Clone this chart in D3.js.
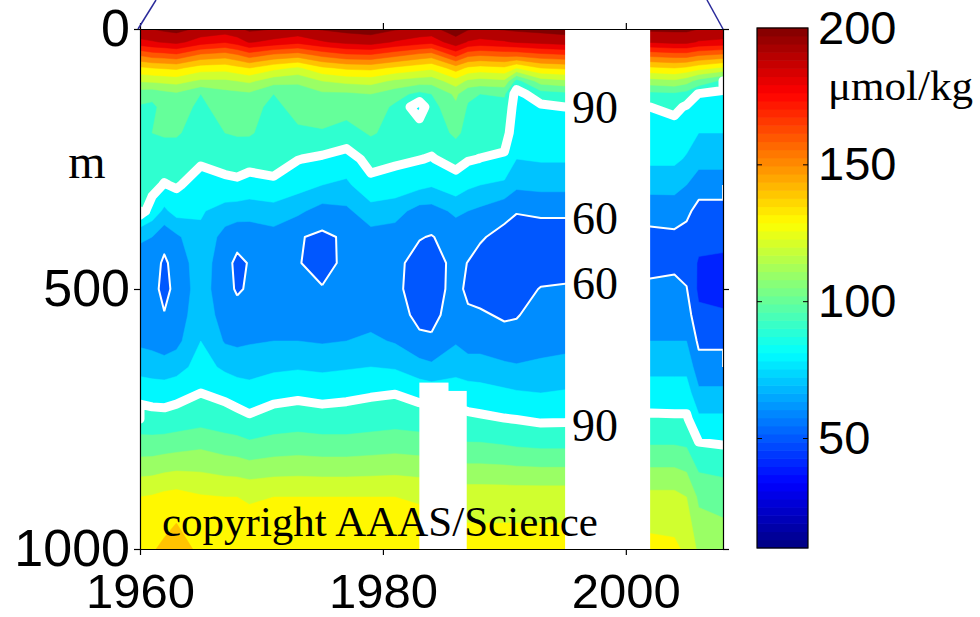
<!DOCTYPE html>
<html>
<head>
<meta charset="utf-8">
<script src="https://cdn.jsdelivr.net/npm/d3@7"></script>
<style>
body { margin: 0; background: #fff; }
</style>
</head>
<body>
<div id="chart"></div>
<script>
// sample years (columns) and depths in m (rows)
var years = [1960, 1961, 1962, 1963, 1965, 1967, 1968, 1969, 1971, 1973, 1975, 1977, 1979, 1981,
             1983, 1984, 1986, 1987, 1988, 1990, 1991, 1993, 1995, 2002, 2004, 2005, 2006, 2008];
var depths = [0, 25, 50, 75, 100, 125, 150, 200, 250, 300, 350, 400, 450, 500, 550, 600, 650, 700, 750, 800, 900, 1000];

// oxygen, umol/kg : one profile per year, top to bottom
var oxygen = [
  [199, 187, 161, 138, 121, 104, 99, 99, 97, 95, 93.5, 72, 64, 63, 64, 68, 76, 87, 94, 104, 130, 136],      // 1960
  [200, 189, 165, 140, 122, 103, 98, 100, 96, 93, 86, 70, 64, 63.5, 64, 67, 75, 86, 93.5, 104, 131, 139],   // 1961
  [202, 191, 166, 141, 123, 106, 103, 101, 95, 89.5, 78, 63, 58.5, 57, 60.5, 65, 74, 86, 93, 105, 133, 142],// 1962
  [203, 193, 168, 142, 124, 108, 104, 101, 95, 91, 84, 68, 63.5, 63, 64, 67, 76, 87, 94, 106, 134, 146],    // 1963
  [198, 185, 158, 135, 118, 100, 98, 96, 91.5, 86, 81, 78, 76, 75, 77, 80, 84, 90, 96, 108, 131, 137],      // 1965
  [196, 181, 155, 134, 118, 106, 104, 100, 93, 88, 76, 66, 63, 63, 65, 69, 78, 88, 94, 105, 130, 136],      // 1967
  [198, 185, 159, 137, 120, 107, 105, 101, 93.5, 88.5, 75, 63, 58, 59, 63, 68, 76, 86, 93, 104, 130, 136],  // 1968
  [202, 191, 165, 140, 122, 108, 104, 101, 93, 87, 74, 64, 60.5, 61, 64, 69, 76, 84, 91.5, 102, 129, 136],  // 1969
  [200, 187, 158, 133, 114, 100, 97, 96, 94, 88, 76, 66, 62, 62, 65, 70, 78, 87, 94, 104, 130, 136],        // 1971
  [198, 183, 155, 128, 112, 104, 104, 98, 90.3, 84, 72, 60.8, 60.5, 62, 65, 70, 79, 88, 95, 105, 130, 136], // 1973
  [201, 189, 163, 138, 120, 108, 105, 99, 88.5, 80, 66, 58, 57, 60.5, 64, 69, 78, 87, 94, 104, 130, 136],   // 1975
  [203, 193, 168, 142, 123, 108, 104, 96, 86, 78, 68, 61.5, 62, 63, 65, 70, 79, 88, 94, 104, 130, 136],     // 1977
  [204, 195, 169, 143, 124, 110, 106, 101, 93, 87.5, 76, 66, 63, 63, 66, 72, 80, 89, 95, 105, 130, 136],    // 1979
  [201, 189, 163, 138, 118, 104, 98, 97, 91.5, 86, 74, 65, 62, 62, 64, 69, 79, 89.7, 96, 106, 130, 136],    // 1981
  [198, 185, 157, 134, 115, 97, 85, 96, 90.3, 83, 66, 60.5, 57, 56, 57.5, 62, 74, 87, 95, 105, 129, 136],   // 1983
  [198, 183, 155, 132, 114, 100, 96, 94, 89.5, 81, 66, 59.5, 57, 56, 57, 61.5, 72, 86, 94, 104, 128, 135],  // 1984
  [204, 197, 173, 145, 126, 112, 108, 102, 93, 86, 72, 64, 62, 63, 65, 69, 76, 86, 93, 102, 127, 135],      // 1986
  [201, 189, 163, 138, 118, 102, 99, 97, 90.8, 82, 70, 63, 59.8, 58, 61.5, 66, 74, 85, 92, 101, 126, 134],  // 1987
  [199, 187, 161, 136, 116, 100, 97, 95, 89.8, 80, 68, 61, 57, 57, 61, 66, 74, 84, 91.5, 101, 126, 134],    // 1988
  [201, 189, 163, 138, 118, 101, 97, 94, 88.5, 78, 63, 57, 55, 56, 59, 63, 72, 82, 90.3, 100, 126, 134],    // 1990
  [202, 191, 163, 130, 96, 87, 86, 84, 80, 72, 60.5, 56, 55, 56, 59.5, 63, 71, 81, 89.8, 99, 126, 134],     // 1991
  [203, 193, 167, 140, 115, 95, 88.5, 85, 81, 73, 61.5, 56, 55, 60.5, 63, 66, 72, 80, 88.5, 98, 126, 134],  // 1993
  [204, 195, 169, 142, 118, 97, 90, 85, 81, 73, 61.5, 56, 56, 61, 64, 67, 73, 81, 88.8, 98, 126, 134],      // 1995
  [202, 191, 163, 138, 116, 97, 90, 86, 82, 74, 63, 58, 57, 62, 66, 70, 77, 85, 91.5, 100, 123, 133],       // 2002
  [202, 193, 165, 140, 118, 98, 92, 86, 82, 74, 63.5, 58.5, 58, 62.5, 66, 70, 77, 85, 91.3, 100, 123, 132], // 2004
  [202, 193, 165, 138, 114, 96, 89, 84, 79, 70, 62, 57, 56, 60.5, 65, 70, 77, 85, 91.3, 99, 120, 128],      // 2005
  [200, 189, 161, 134, 106, 89.5, 86, 80, 74, 64, 57, 53, 49, 48, 52, 58, 64, 72, 82, 91, 108, 118],        // 2006
  [200, 187, 158, 128, 98, 87, 85, 80, 74, 64, 57, 53, 48, 47, 51, 58, 64, 72, 82, 90, 106, 116]            // 2008
];

// filled levels, labelled white lines, gaps with no data
var fillLevels = d3.range(10, 201, 10);
var thickLevel = 90, thinLevel = 60;
var labelValues = [90, 60, 60, 90];
var labelDepths = [150, 364, 488, 762];
var gapFrom = [1995, 1983, 1985.2];
var gapTo = [2002, 1985.4, 1986.9];
var gapTop = [0, 680, 696];
var xTicks = [1960, 1980, 2000];
var yTicks = [0, 500, 1000];
var cTicks = [50, 100, 150, 200];

var sans = "'Liberation Sans', Arial, Helvetica, sans-serif";
var serif = "'Liberation Serif', 'Times New Roman', Times, serif";

var width = 980, height = 617;

var x = d3.scaleLinear().domain([1960, 2008]).range([140, 723]);
var y = d3.scaleLinear().domain([0, 1000]).range([29, 549]);
var cy = d3.scaleLinear().domain([10, 200]).range([548, 28]);

// matlab jet colormap
var jetStops = [0, 0.125, 0.375, 0.625, 0.875, 1];
var jet = d3.scaleLinear()
    .domain(jetStops.map(function(t){ return 10 + t * 190; }))
    .range(["#000080", "#0000ff", "#00ffff", "#ffff00", "#ff0000", "#800000"])
    .clamp(true);

var svg = d3.select("#chart")
    .append("svg")
    .attr("width", width)
    .attr("height", height)
    .style("background", "#fff");

svg.append("defs").append("clipPath").attr("id", "plotClip")
    .append("rect")
    .attr("x", x(1960)).attr("y", y(0))
    .attr("width", x(2008) - x(1960)).attr("height", y(1000) - y(0));

// grid for d3.contours, columns = years, rows = depths
var nx = years.length, ny = depths.length;
var grid = new Array(nx * ny);
for (var i = 0; i < nx; i++) {
  for (var j = 0; j < ny; j++) {
    grid[j * nx + i] = oxygen[i][j];
  }
}

// contour coords are cell based, map them back to year / depth
var colIdx = d3.scaleLinear().domain(d3.range(nx)).range(years).clamp(true);
var rowIdx = d3.scaleLinear().domain(d3.range(ny)).range(depths).clamp(true);
function px(c){ return x(colIdx(c - 0.5)); }
function py(r){ return y(rowIdx(r - 0.5)); }

var proj = d3.geoTransform({
  point: function(a, b){ this.stream.point(px(a), py(b)); }
});
var path = d3.geoPath(proj);

var contours = d3.contours().size([nx, ny]);
var bands = contours.thresholds(fillLevels)(grid);

var plot = svg.append("g").attr("clip-path", "url(#plotClip)");

plot.selectAll("path.band")
    .data(bands)
    .enter()
    .append("path")
    .attr("class", "band")
    .attr("d", path)
    .attr("fill", function(d){ return jet(d.value); })
    .attr("stroke", function(d){ return jet(d.value); })
    .attr("stroke-width", 0.5);

// contour lines without the parts lying on the grid border
function contourRuns(level) {
  var c = contours.contour(grid, level);
  var runs = [];
  function onEdge(p){ return p[0] <= 0 || p[0] >= nx || p[1] <= 0 || p[1] >= ny; }
  c.coordinates.forEach(function(poly){
    poly.forEach(function(ring){
      var run = [];
      for (var k = 0; k < ring.length - 1; k++) {
        var a = ring[k], b = ring[k + 1];
        if (onEdge(a) && onEdge(b)) {
          if (run.length > 1) runs.push(run);
          run = [];
        } else {
          if (!run.length) run.push(a);
          run.push(b);
        }
      }
      if (run.length > 1) runs.push(run);
    });
  });
  return runs;
}

var line = d3.line()
    .x(function(p){ return px(p[0]); })
    .y(function(p){ return py(p[1]); });

plot.selectAll("path.thin")
    .data(contourRuns(thinLevel))
    .enter()
    .append("path")
    .attr("class", "thin")
    .attr("d", line)
    .attr("fill", "none")
    .attr("stroke", "#fff")
    .attr("stroke-width", 2)
    .attr("stroke-linejoin", "round");

plot.selectAll("path.thick")
    .data(contourRuns(thickLevel))
    .enter()
    .append("path")
    .attr("class", "thick")
    .attr("d", line)
    .attr("fill", "none")
    .attr("stroke", "#fff")
    .attr("stroke-width", 9)
    .attr("stroke-linejoin", "round")
    .attr("stroke-linecap", "round");

// no data
plot.selectAll("rect.gap")
    .data(gapFrom)
    .enter()
    .append("rect")
    .attr("class", "gap")
    .attr("x", function(d){ return x(d); })
    .attr("y", function(d, i){ return y(gapTop[i]); })
    .attr("width", function(d, i){ return x(gapTo[i]) - x(d); })
    .attr("height", function(d, i){ return y(1000) - y(gapTop[i]); })
    .attr("fill", "#fff");

svg.selectAll("text.clabel")
    .data(labelValues)
    .enter()
    .append("text")
    .attr("class", "clabel")
    .attr("x", x(1995) + 7)
    .attr("y", function(d, i){ return y(labelDepths[i]); })
    .attr("dy", "0.35em")
    .style("font-family", serif)
    .style("font-size", "46px")
    .text(function(d){ return d; });

svg.append("text")
    .attr("x", 162)
    .attr("y", 536)
    .style("font-family", serif)
    .style("font-size", "43px")
    .text("copyright AAAS/Science");

// axes
var xAxis = svg.append("g")
    .attr("transform", "translate(0," + y(1000) + ")")
    .call(d3.axisBottom(x).tickValues(xTicks).tickFormat(d3.format("d")).tickSize(6).tickSizeOuter(0).tickPadding(18));
var yAxis = svg.append("g")
    .attr("transform", "translate(" + x(1960) + ",0)")
    .call(d3.axisLeft(y).tickValues(yTicks).tickFormat(d3.format("d")).tickSize(6).tickSizeOuter(0).tickPadding(4));
svg.append("g")
    .attr("transform", "translate(0," + y(0) + ")")
    .call(d3.axisTop(x).tickValues(xTicks).tickFormat("").tickSize(6).tickSizeOuter(0));
svg.append("g")
    .attr("transform", "translate(" + x(2008) + ",0)")
    .call(d3.axisRight(y).tickValues(yTicks).tickFormat("").tickSize(6).tickSizeOuter(0));

svg.selectAll(".domain").attr("stroke", "#000").attr("stroke-width", 1.2);
svg.selectAll(".tick line").attr("stroke", "#000").attr("stroke-width", 1.2);
xAxis.selectAll("text")
    .style("font-family", sans)
    .style("font-size", "49px")
    .attr("fill", "#000");
yAxis.selectAll("text")
    .style("font-family", sans)
    .style("font-size", "52px")
    .attr("fill", "#000");

svg.append("text")
    .attr("x", 87)
    .attr("y", 178)
    .attr("text-anchor", "middle")
    .style("font-family", serif)
    .style("font-size", "48px")
    .text("m");

// leftover lines from the panel above
svg.append("line")
    .attr("x1", x(1960) - 2).attr("y1", y(0))
    .attr("x2", x(1960) + 16).attr("y2", 0)
    .attr("stroke", "#2a2a9a").attr("stroke-width", 1.5);
svg.append("line")
    .attr("x1", x(2008) - 16).attr("y1", 0)
    .attr("x2", x(2008)).attr("y2", y(0))
    .attr("stroke", "#2a2a9a").attr("stroke-width", 1.5);

// colorbar
var cbX = 757, cbW = 51, nSteps = 64;
var stepVals = d3.range(nSteps).map(function(k){ return 10 + (k + 0.5) * 190 / nSteps; });
svg.selectAll("rect.cb")
    .data(stepVals)
    .enter()
    .append("rect")
    .attr("class", "cb")
    .attr("x", cbX)
    .attr("y", function(d){ return cy(d + 95 / nSteps) - 0.3; })
    .attr("width", cbW)
    .attr("height", cy(0) - cy(190 / nSteps) + 0.6)
    .attr("fill", function(d){ return jet(d); });

svg.append("rect")
    .attr("x", cbX).attr("y", cy(200))
    .attr("width", cbW).attr("height", cy(10) - cy(200))
    .attr("fill", "none").attr("stroke", "#000").attr("stroke-width", 1.2);

svg.selectAll("g.cbtick")
    .data(cTicks.slice(0, 3))
    .enter()
    .append("g")
    .attr("class", "cbtick")
    .each(function(d){
      var g = d3.select(this);
      g.append("line").attr("x1", cbX).attr("x2", cbX + 5).attr("y1", cy(d)).attr("y2", cy(d)).attr("stroke", "#000");
      g.append("line").attr("x1", cbX + cbW - 5).attr("x2", cbX + cbW).attr("y1", cy(d)).attr("y2", cy(d)).attr("stroke", "#000");
    });

var cAxis = svg.append("g")
    .attr("transform", "translate(" + (cbX + cbW) + ",0)")
    .call(d3.axisRight(cy).tickValues(cTicks).tickSize(0).tickPadding(10));
cAxis.select(".domain").remove();
cAxis.selectAll("text")
    .style("font-family", sans)
    .style("font-size", "47px")
    .attr("fill", "#000");

svg.append("text")
    .attr("x", 828)
    .attr("y", 100)
    .style("font-family", serif)
    .style("font-size", "43px")
    .text("\u03bcmol/kg");
</script>
</body>
</html>
